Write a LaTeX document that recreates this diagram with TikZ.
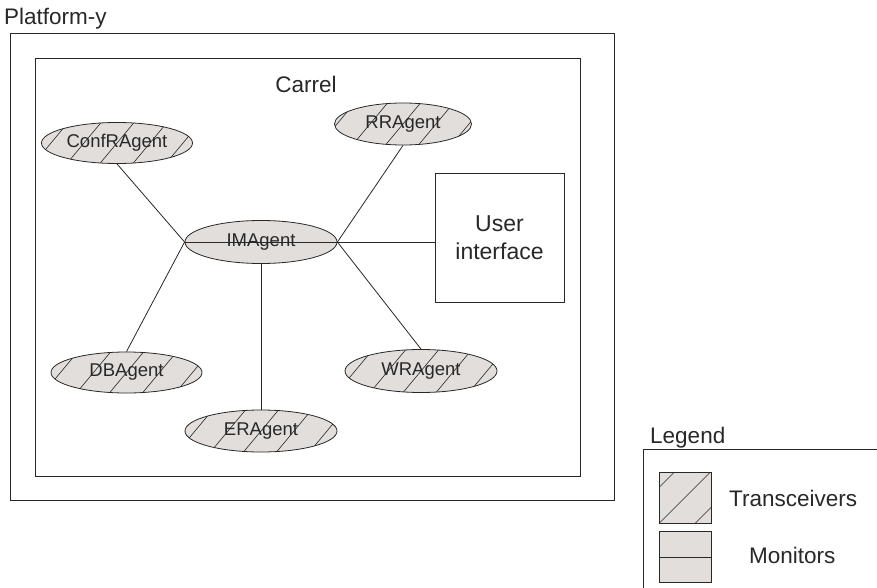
\documentclass[tikz,border=0pt]{standalone}
\usepackage{fontspec}
\setmainfont{Liberation Sans}
\usetikzlibrary{shapes.geometric}
\definecolor{agentfill}{RGB}{226,222,220}
\definecolor{ink}{RGB}{40,40,40}
\tikzset{
  frame/.style={draw=ink, line width=0.9pt},
  link/.style={draw=ink, line width=0.8pt},
  lbl/.style={text=ink, font=\fontsize{22.5}{24}\selectfont, inner sep=0pt},
  agentbase/.style={ellipse, draw=ink, line width=0.8pt, fill=agentfill, inner sep=0pt,
    text=ink, font=\fontsize{18.5}{20}\selectfont},
  transceiver/.style={agentbase, path picture={
      \foreach \k in {-8,...,8}{
        \draw[ink, line width=0.6pt]
          ([xshift=\k*33pt]path picture bounding box.center) ++(-30pt,-36pt) -- ++(60pt,72pt);}}},
  monitor/.style={agentbase, path picture={
      \draw[ink, line width=0.8pt] (path picture bounding box.west) -- (path picture bounding box.east);}},
  swatch/.style={draw=ink, line width=0.8pt, fill=agentfill, minimum width=52pt, minimum height=51pt, inner sep=0pt},
}
\begin{document}
\begin{tikzpicture}[x=1pt,y=-1pt]
\useasboundingbox (0,0) rectangle (877,588);
\fill[white] (0,0) rectangle (877,588);

% platform and carrel frames
\draw[frame] (10,33) rectangle (614,500);
\node[lbl, anchor=base west] (platlbl) at (4,25) {Platform-y};
\draw[frame] (35,58) rectangle (580,476);
\node[lbl, anchor=base] (carrellbl) at (306,93) {Carrel};

% agents
\node[transceiver, minimum width=151pt, minimum height=41pt] (conf) at (117,143) {ConfRAgent};
\node[transceiver, minimum width=137pt, minimum height=42pt] (rr) at (403,124) {RRAgent};
\node[monitor, minimum width=152pt, minimum height=43pt] (im) at (261,242) {IMAgent};
\node[transceiver, minimum width=151pt, minimum height=41pt] (db) at (126.5,372.5) {DBAgent};
\node[transceiver, minimum width=152pt, minimum height=43pt] (wr) at (421,371) {WRAgent};
\node[transceiver, minimum width=152pt, minimum height=42pt] (er) at (261,431) {ERAgent};

% user interface
\node[draw=ink, line width=0.9pt, minimum width=129pt, minimum height=129pt, inner sep=0pt,
      align=center, text=ink, font=\fontsize{23}{28}\selectfont] (ui) at (499.5,237.5) {User\\interface};

% connectors
\draw[link] (conf.south) -- (im.west);
\draw[link] (rr.south) -- (im.east);
\draw[link] (im.east) -- (im.east -| ui.west);
\draw[link] (im.east) -- (wr.north);
\draw[link] (im.west) -- (db.north);
\draw[link] (im.south) -- (er.north);

% legend
\node[lbl, anchor=base west] (leglbl) at (650,443) {Legend};
\coordinate (legtr) at (877,449);
\coordinate (legtl) at (643,449);
\coordinate (legbl) at (643,588);
\draw[frame] (legtr) -- (legtl) -- (legbl);
\node[swatch, path picture={
    \foreach \k in {-1,0,1}{
      \draw[ink, line width=0.6pt]
        ([xshift=\k*36pt]path picture bounding box.center) ++(-30pt,-30pt) -- ++(60pt,60pt);}}]
  (sw1) at (685,497.5) {};
\node[swatch, path picture={
    \draw[ink, line width=0.8pt] (path picture bounding box.west) -- (path picture bounding box.east);}]
  (sw2) at (685,557) {};
\node[lbl, anchor=west] (tlbl) at (729,498) {Transceivers};
\node[lbl, anchor=west] (mlbl) at (749,555) {Monitors};
\end{tikzpicture}
\end{document}
